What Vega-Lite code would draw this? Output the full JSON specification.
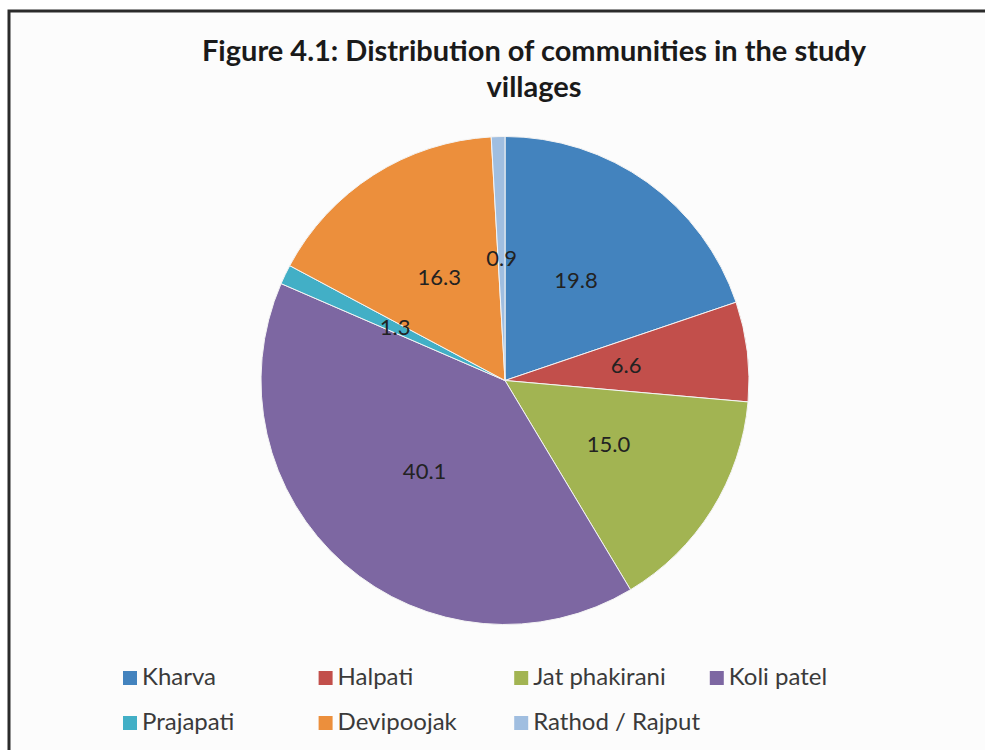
{
  "$schema": "https://vega.github.io/schema/vega-lite/v6.json",
  "width": 976,
  "height": 739,
  "autosize": {"type": "none"},
  "padding": {"left": 9, "top": 11, "right": 0, "bottom": 0},
  "background": "white",
  "view": {"stroke": "#2b2b2b", "strokeWidth": 3, "fill": "#fcfcfc", "strokeDash": [976, 1715, 739], "strokeCap": "square"},
  "config": {"font": "Lato"},
  "title": {
    "text": ["Figure 4.1: Distribution of communities in the study", "villages"],
    "font": "Lato",
    "fontSize": 29,
    "fontWeight": "bold",
    "color": "#1a1a1a",
    "anchor": "middle",
    "frame": "group",
    "offset": -92,
    "dx": 37,
    "lineHeight": 36
  },
  "data": {
    "values": [
      {"community": "Kharva", "pct": 19.8, "idx": 1},
      {"community": "Halpati", "pct": 6.6, "idx": 2},
      {"community": "Jat phakirani", "pct": 15.0, "idx": 3},
      {"community": "Koli patel", "pct": 40.1, "idx": 4},
      {"community": "Prajapati", "pct": 1.3, "idx": 5},
      {"community": "Devipoojak", "pct": 16.3, "idx": 6},
      {"community": "Rathod / Rajput", "pct": 0.9, "idx": 7}
    ]
  },
  "encoding": {
    "theta": {"field": "pct", "type": "quantitative", "stack": true},
    "order": {"field": "idx", "type": "quantitative"}
  },
  "layer": [
    {
      "mark": {"type": "arc", "outerRadius": 244, "xOffset": 8, "stroke": "#f4f4f4", "strokeWidth": 1},
      "encoding": {
        "color": {
          "field": "community",
          "type": "nominal",
          "sort": ["Kharva", "Halpati", "Jat phakirani", "Koli patel", "Prajapati", "Devipoojak", "Rathod / Rajput"],
          "scale": {
            "domain": ["Kharva", "Halpati", "Jat phakirani", "Koli patel", "Prajapati", "Devipoojak", "Rathod / Rajput"],
            "range": ["#4383BE", "#C24F4B", "#A2B452", "#7D67A2", "#42AFC6", "#EC8F3C", "#A0BEE0"]
          },
          "legend": {
            "title": null,
            "orient": "none",
            "direction": "horizontal",
            "legendX": 109,
            "legendY": 655,
            "columns": 4,
            "gridAlign": "all",
            "columnPadding": 4.6,
            "rowPadding": 21,
            "symbolType": "square",
            "symbolSize": 196,
            "symbolStrokeWidth": 0,
            "labelFont": "Lato",
            "labelFontSize": 24,
            "labelColor": "#3a3a3a",
            "labelOffset": 0,
            "labelLimit": 300
          }
        }
      }
    },
    {
      "mark": {"type": "text", "radius": 122, "xOffset": 8, "font": "Lato", "fontSize": 22, "fill": "#222222"},
      "encoding": {
        "text": {"field": "pct", "type": "quantitative", "format": ".1f"}
      }
    }
  ]
}
